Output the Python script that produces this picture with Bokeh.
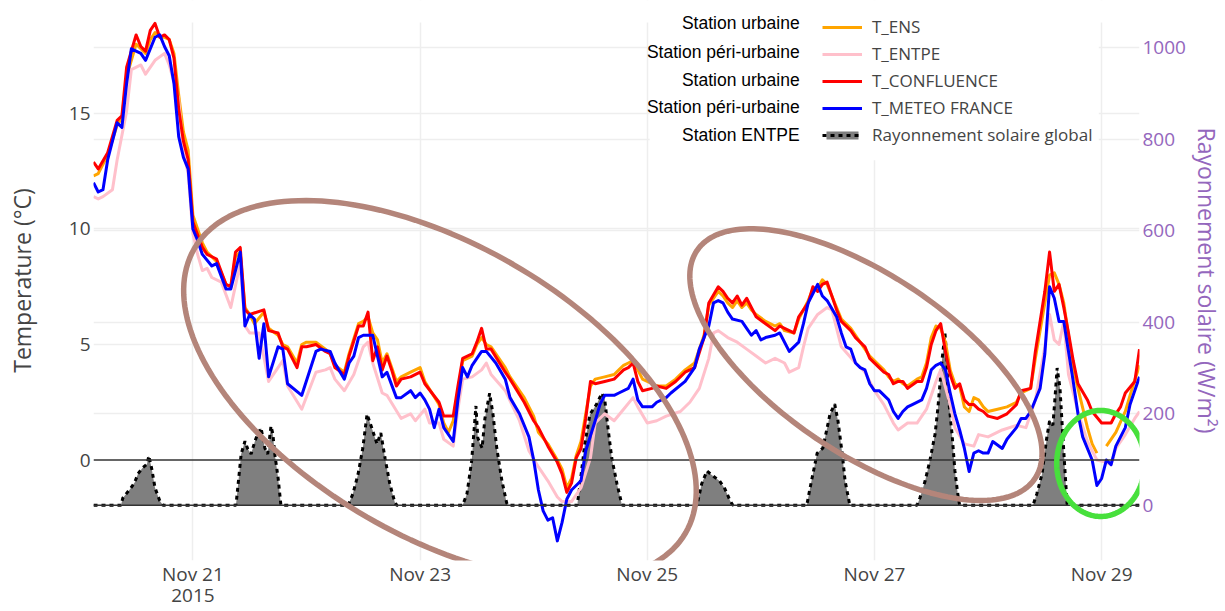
import numpy as np
import pandas as pd
from bokeh.plotting import figure
from bokeh.models import (Range1d, LinearAxis, DatetimeAxis, FixedTicker, DatetimeTickFormatter,
                          Span, Grid, Legend, LegendItem, BoxAnnotation, Label,
                          ColumnDataSource, PolyAnnotation)
from bokeh.embed import file_html
from bokeh.resources import INLINE

T0 = pd.Timestamp("2015-11-20 00:00")
nan = float("nan")

# ---- data: (hours since 2015-11-20 00:00, value) ----
t_ens = [(3,12.3),(4,12.4),(6,13.2),(8,14.5),(9,14.8),(10,16.6),(12,18.0),(13,17.8),(14,17.6),(15,18.2),(16,18.5),(17,18.3),(18,18.3),(19,18.2),(20,17.6),(21,15.8),(22,14.2),(23,13.4),(24,10.6),(26,9.4),(27,9.0),(29,8.6),(31,7.6),(32,7.5),(33,8.8),(34,9.0),(35,6.6),(36,6.3),(37,5.9),(39,6.4),(40,5.7),(42,5.4),(43,5.0),(44,4.9),(46,4.2),(47,5.0),(48,5.1),(50,5.1),(52,4.8),(53,4.6),(54,4.1),(56,3.8),(57,4.6),(59,5.9),(60,6.0),(61,6.2),(62,5.5),(63,5.2),(64,4.2),(65,4.6),(66,4.0),(67,3.4),(68,3.6),(70,3.8),(72,4.0),(73,3.4),(76,2.4),(77,1.6),(78,1.2),(79,1.7),(80,3.0),(81,4.3),(83,4.5),(84,5.0),(85,5.3),(86,5.0),(87,4.9),(90,4.0),(91,3.6),(94,2.7),(96,1.9),(97,1.2),(99,0.7),(101,0.0),(102,-0.4),(103,-1.2),(104,-0.8),(105,0.2),(106,0.8),(107,2.0),(108,3.2),(109,3.5),(111,3.6),(113,3.7),(114,3.9),(115,4.1),(116,4.2),(117,4.3),(118,3.9),(119,3.5),(121,3.3),(122,3.2),(124,3.2),(126,3.5),(128,3.9),(130,4.2),(132,5.4),(133,6.7),(135,7.3),(136,7.1),(137,6.8),(138,6.6),(139,6.9),(140,6.6),(141,6.8),(142,6.5),(143,6.3),(145,6.0),(147,5.8),(148,5.9),(149,5.6),(151,5.5),(152,6.1),(154,6.9),(155,7.4),(156,7.4),(157,7.8),(158,7.6),(160,6.6),(161,6.1),(163,5.7),(164,5.4),(166,4.8),(167,4.5),(169,4.1),(170,3.9),(171,3.6),(172,3.4),(173,3.5),(174,3.3),(175,3.2),(177,3.5),(178,3.6),(179,4.2),(180,5.3),(181,5.8),(182,5.7),(183,5.1),(184,3.9),(185,3.3),(186,3.2),(187,2.3),(188,2.1),(189,2.7),(190,2.6),(191,2.3),(192,2.1),(194,2.2),(196,2.3),(198,2.5),(199,2.9),(201,3.1),(202,4.4),(204,6.8),(205,8.0),(206,8.1),(207,7.6),(208,6.8),(209,5.4),(210,4.0),(211,3.1),(213,1.4),(214,0.7),(215,0.3),(216,nan),(217,0.6),(219,1.2),(221,2.1),(222,2.8),(224,4.1)]

t_entpe = [(3,11.4),(4,11.3),(5,11.4),(7,11.7),(8,13.0),(10,15.1),(11,16.9),(13,17.1),(14,16.7),(16,17.3),(18,17.6),(19,17.1),(21,15.6),(22,13.3),(23,12.4),(24,9.8),(25,8.9),(26,8.2),(27,8.3),(28,7.9),(30,7.7),(32,6.6),(34,8.5),(35,5.8),(36,5.5),(38,5.5),(40,3.4),(43,4.3),(44,3.2),(47,2.2),(50,3.8),(52,3.9),(53,4.0),(54,3.5),(56,3.0),(58,3.7),(60,4.9),(61,5.1),(62,4.2),(64,2.9),(65,2.8),(68,1.8),(70,2.0),(71,1.7),(73,2.2),(74,1.6),(76,1.6),(77,0.9),(79,0.6),(80,2.2),(81,3.5),(83,3.6),(85,3.9),(86,4.2),(87,3.7),(90,3.0),(93,1.7),(95,0.4),(97,-0.3),(99,-0.9),(101,-1.6),(102,-1.8),(104,-1.8),(106,-1.2),(108,0.1),(109,1.6),(111,2.0),(113,1.7),(115,2.2),(117,2.7),(118,2.3),(120,1.6),(122,1.7),(124,1.9),(127,2.1),(129,2.5),(131,3.1),(133,4.4),(134,5.5),(135,5.6),(137,5.3),(139,5.1),(141,4.8),(143,4.5),(145,4.2),(147,4.4),(149,4.2),(150,3.8),(152,4.0),(153,4.9),(154,5.7),(156,6.3),(158,6.6),(159,6.5),(161,4.9),(164,4.2),(166,3.8),(168,3.0),(170,2.4),(172,1.6),(173,1.3),(175,1.6),(177,1.6),(179,2.2),(181,3.4),(182,3.9),(184,2.4),(185,1.4),(187,0.7),(189,0.6),(190,1.1),(192,1.0),(195,1.3),(198,1.5),(200,1.4),(202,2.6),(204,4.9),(205,6.3),(206,5.2),(207,5.0),(208,6.0),(209,3.7),(211,2.1),(213,0.8),(215,0.0),(217,-0.1),(218,-0.2),(219,0.5),(221,1.1),(223,1.8),(224,2.1)]

t_confluence = [(3,12.9),(4,12.6),(6,13.3),(8,14.7),(9,14.9),(10,17.0),(12,18.4),(13,17.9),(14,17.7),(15,18.6),(16,18.9),(17,18.3),(18,18.4),(19,18.2),(20,17.4),(21,15.2),(22,13.8),(23,13.0),(24,10.3),(26,9.2),(27,8.9),(29,8.7),(31,7.6),(32,7.5),(33,9.0),(34,9.2),(35,6.5),(36,6.3),(39,6.5),(40,5.6),(42,5.5),(43,4.9),(44,4.8),(46,4.0),(47,4.9),(48,4.9),(50,5.0),(52,4.7),(53,4.6),(54,4.0),(56,3.7),(57,4.5),(59,5.8),(60,5.8),(61,6.4),(62,4.3),(63,4.9),(64,3.9),(65,4.5),(66,3.9),(67,3.2),(68,3.5),(70,3.6),(72,3.8),(73,3.3),(76,2.5),(77,1.9),(79,1.9),(80,3.2),(81,4.4),(83,4.6),(84,5.1),(85,5.7),(86,4.8),(87,4.8),(90,3.8),(91,3.5),(94,2.5),(96,1.7),(97,1.4),(99,0.6),(101,-0.1),(102,-0.6),(103,-1.4),(104,-1.0),(105,0.1),(106,0.5),(107,1.8),(108,3.4),(109,3.3),(111,3.4),(113,3.5),(114,3.7),(115,3.9),(116,4.0),(117,4.2),(118,3.4),(119,3.0),(121,3.1),(122,3.2),(124,3.1),(126,3.4),(128,3.8),(130,4.0),(132,5.3),(133,6.8),(135,7.5),(136,7.3),(137,7.0),(138,6.8),(139,7.1),(140,6.7),(141,7.0),(142,6.6),(143,6.2),(145,5.9),(147,5.6),(148,5.8),(149,5.7),(151,5.5),(152,6.2),(154,6.8),(155,7.5),(156,7.3),(157,7.6),(158,7.7),(160,6.5),(161,6.0),(163,5.6),(164,5.3),(166,4.9),(167,4.4),(169,4.0),(170,3.8),(171,3.7),(172,3.3),(173,3.4),(174,3.4),(175,3.1),(177,3.4),(178,3.4),(179,4.0),(180,5.0),(181,5.6),(182,5.9),(183,4.7),(184,3.7),(185,3.1),(186,3.3),(187,2.6),(188,2.4),(189,2.4),(190,2.2),(191,2.1),(192,1.9),(194,1.8),(196,2.0),(198,2.4),(199,3.0),(201,3.1),(202,4.7),(204,7.3),(205,9.0),(206,7.3),(207,7.6),(208,6.6),(209,5.5),(210,4.3),(211,3.3),(213,2.6),(214,2.1),(216,1.6),(217,1.6),(218,1.6),(219,2.0),(220,2.3),(221,2.9),(223,3.4),(224,4.8)]

t_meteo = [(3,12.0),(4,11.6),(5,11.7),(6,13.0),(8,14.6),(9,14.4),(10,16.3),(11,17.8),(13,17.6),(14,17.3),(16,18.3),(17,18.4),(18,17.9),(19,17.5),(20,16.3),(21,14.0),(22,13.1),(23,12.6),(24,10.0),(25,9.5),(26,8.9),(28,8.4),(29,8.5),(31,7.4),(32,7.4),(34,9.0),(35,5.8),(36,6.3),(37,6.1),(38,4.4),(39,5.9),(40,3.6),(42,4.9),(43,4.8),(44,3.3),(47,2.8),(50,4.7),(51,4.8),(53,4.7),(54,4.2),(56,3.5),(57,4.2),(58,4.5),(59,5.3),(60,5.4),(62,5.4),(63,4.5),(64,3.6),(65,3.8),(67,2.7),(68,2.7),(70,3.0),(71,2.7),(72,2.9),(73,2.6),(74,2.2),(75,1.4),(76,2.2),(77,1.4),(79,0.8),(80,2.6),(81,4.0),(82,3.6),(83,4.1),(85,4.7),(86,4.7),(88,4.2),(90,3.5),(91,2.7),(93,2.0),(95,1.0),(96,0.0),(97,-1.3),(98,-2.2),(99,-2.6),(100,-2.5),(101,-3.5),(102,-2.7),(103,-1.7),(104,-1.3),(106,-0.9),(107,0.4),(109,1.7),(110,2.4),(111,2.8),(113,2.8),(114,2.9),(116,3.1),(117,3.5),(118,2.6),(119,2.3),(121,2.3),(122,2.5),(124,2.7),(125,2.9),(128,3.4),(130,4.0),(131,4.8),(133,5.8),(134,6.8),(135,6.9),(136,6.8),(137,6.4),(138,6.1),(140,6.0),(141,5.7),(142,5.4),(143,5.6),(144,5.2),(145,5.3),(147,5.4),(148,5.5),(150,4.7),(152,5.1),(153,5.9),(154,6.8),(156,7.6),(157,7.1),(158,6.9),(160,6.2),(161,5.5),(162,4.9),(163,4.8),(164,4.2),(165,4.0),(166,3.9),(167,3.3),(168,3.0),(169,3.0),(171,2.6),(172,2.1),(173,1.8),(174,2.1),(175,2.3),(176,2.4),(178,2.6),(179,3.1),(180,3.9),(181,4.1),(182,4.2),(183,3.9),(184,2.9),(185,2.0),(186,1.3),(187,0.5),(188,-0.5),(189,0.3),(190,0.4),(191,0.3),(192,0.3),(193,0.8),(195,0.5),(196,0.9),(198,1.4),(199,1.8),(200,1.8),(201,2.1),(203,3.1),(204,4.6),(205,7.5),(206,7.0),(207,6.0),(208,6.0),(209,4.7),(210,3.4),(211,2.0),(212,1.0),(214,0.0),(215,-1.1),(216,-0.8),(217,0.0),(218,-0.2),(219,0.6),(221,1.4),(222,2.4),(224,3.6)]

# global solar radiation, W/m2
solar = [(3.0,0),(8.8,0),(9.2,16),(10.9,38),(11.7,50),(12.4,69),(13.4,82),(14.3,90),(14.7,108),(15.3,80),(16.0,38),(17.0,10),(17.7,0),
         (33.1,0),(34.2,112),(35.0,140),(35.6,123),(36.3,112),(37.1,140),(37.7,156),(38.4,169),(39.2,125),(39.8,112),(40.5,173),(40.9,156),(41.3,112),(42.0,60),(42.6,0),
         (56.8,0),(57.8,25),(58.9,68),(59.9,125),(60.8,199),(61.8,169),(62.9,134),(63.7,158),(64.6,103),(65.6,47),(66.7,5),(67.1,0),
         (81.0,0),(81.9,25),(82.9,97),(83.8,217),(84.2,147),(85.1,125),(85.7,190),(86.7,245),(87.4,199),(88.2,125),(89.3,53),(90.3,5),(90.6,0),
         (105.2,0),(105.8,47),(106.8,134),(107.9,199),(109.3,221),(110.4,245),(111.0,232),(111.7,169),(112.5,103),(113.6,47),(114.6,3),(114.8,0),
         (130.5,0),(131.5,47),(132.6,75),(133.9,64),(135.3,53),(136.4,36),(137.5,10),(138.1,0),
         (153.7,0),(154.4,38),(155.9,114),(157.1,125),(158.0,169),(158.6,199),(159.6,221),(160.3,184),(161.2,112),(161.8,53),(162.8,0),
         (177.0,0),(177.6,16),(178.7,53),(179.7,97),(180.8,155),(181.4,212),(182.3,320),(182.9,375),(183.3,322),(183.5,249),(184.4,155),(185.0,75),(185.6,25),(186.0,0),
         (201.5,0),(202.3,25),(203.4,68),(204.4,147),(205.0,184),(205.7,175),(206.1,228),(206.6,300),(207.2,256),(207.7,169),(208.3,68),(208.7,3),(208.9,0),
         (224.0,0)]

series_names = ["T_ENS", "T_ENTPE", "T_CONFLUENCE", "T_METEO FRANCE"]
series_colors = ["#FFA500", "#FFC0CB", "#FF0000", "#0000FF"]
solar_name = "Rayonnement solaire global"
station_names = ["Station urbaine", "Station péri-urbaine", "Station urbaine",
                 "Station péri-urbaine", "Station ENTPE"]
tick_days = ["2015-11-21", "2015-11-23", "2015-11-25", "2015-11-27", "2015-11-29"]
temp_ticks = [0, 5, 10, 15]
solar_ticks = [0, 200, 400, 600, 800, 1000]

# highlight ellipses (annotations): centre (hours, °C), semi-axes in px, tilt in degrees
hl_hours = [76.2, 166.2, 215.8]
hl_temps = [3.0, 4.13, -0.15]
hl_semi_a = [284, 204, 44]
hl_semi_b = [146, 89, 53]
hl_tilt = [30, 34, 0]
hl_colors = ["#b4857a", "#b4857a", "#47e03c"]

# ---- layout constants ----
W, H = 1225, 611
B_LEFT, B_RIGHT, B_TOP, B_BOTTOM = 93, 85, 0, 51
FRAME_W, FRAME_H = W - B_LEFT - B_RIGHT, H - B_TOP - B_BOTTOM
H_START, H_END = 3, 224
T_LO, T_HI = -4.35, 19.89          # frame reaches the top edge of the canvas
T_GRID_TOP = 18.94                 # plot area top used by the grid
S_LO, S_HI = -120.6, 1102.9
FONT = "Open Sans"
GREY = "#444444"
PURPLE = "#9467bd"


def to_src(pairs):
    h = np.array([a for a, _ in pairs], dtype=float)
    v = np.array([b for _, b in pairs], dtype=float)
    return ColumnDataSource(dict(t=T0 + pd.to_timedelta(h, unit="h"), v=v))


def ms(ts):
    return pd.Timestamp(ts).value / 1e6


def ms_h(hours):
    return ms(T0 + pd.Timedelta(hours=hours))


p = figure(x_axis_type="datetime", width=W, height=H,
           x_range=Range1d(ms_h(H_START), ms_h(H_END)), y_range=Range1d(T_LO, T_HI),
           output_backend="svg", toolbar_location=None,
           min_border_left=B_LEFT, min_border_top=B_TOP, min_border_right=B_RIGHT,
           min_border_bottom=B_BOTTOM)
p.outline_line_color = None
p.background_fill_color = "white"
p.border_fill_color = "white"
p.extra_y_ranges = {"solar": Range1d(S_LO, S_HI)}

# axes
xa = p.xaxis[0]
xa.ticker = FixedTicker(ticks=[ms(d) for d in tick_days])
xa.formatter = DatetimeTickFormatter(days="%b %d")
ya = p.yaxis[0]
ya.ticker = FixedTicker(ticks=temp_ticks)
ya.axis_label = "Temperature (°C)"
ya.axis_label_standoff = 28

yr = LinearAxis(y_range_name="solar", ticker=FixedTicker(ticks=solar_ticks),
                axis_label="Rayonnement solaire (W/m²)")
yr.axis_label_standoff = 2
p.add_layout(yr, "right")

yf = "%Y"
xyear = DatetimeAxis(ticker=FixedTicker(ticks=[ms(tick_days[0])]),
                     formatter=DatetimeTickFormatter(microseconds=yf, milliseconds=yf,
                                                     seconds=yf, minsec=yf, minutes=yf,
                                                     hourmin=yf, hours=yf, days=yf,
                                                     months=yf, years=yf))
p.add_layout(xyear, "below")

for ax in (xa, ya, yr, xyear):
    ax.axis_line_color = None
    ax.major_tick_line_color = None
    ax.minor_tick_line_color = None
    ax.major_tick_out = 0
    ax.major_tick_in = 0
    ax.minor_tick_out = 0
    ax.minor_tick_in = 0
    ax.major_label_text_font = FONT
    ax.major_label_text_font_size = "19px"
    ax.major_label_text_color = GREY
    ax.major_label_standoff = 3
    ax.axis_label_text_font = FONT
    ax.axis_label_text_font_size = "23px"
    ax.axis_label_text_font_style = "normal"
    ax.axis_label_text_color = GREY
xa.major_label_standoff = 0
xyear.major_label_standoff = -1
yr.major_label_text_color = PURPLE
yr.axis_label_text_color = PURPLE

# grids
p.xgrid.ticker = xa.ticker
p.ygrid.ticker = FixedTicker(ticks=[t for t in temp_ticks if t != 0])
for g in (p.xgrid[0], p.ygrid[0]):
    g.grid_line_color = "#eeeeee"
    g.grid_line_width = 1.5
g2 = Grid(dimension=1, ticker=FixedTicker(ticks=[t for t in solar_ticks if t != 0]),
          y_range_name="solar", grid_line_color="#eeeeee", grid_line_width=1.5)
p.add_layout(g2)
# keep the strip above the plot area free of grid lines
p.add_layout(BoxAnnotation(bottom=T_GRID_TOP, fill_color="white", fill_alpha=1.0,
                           line_color=None, level="underlay"))

# zero lines
p.add_layout(Span(location=0, dimension="width", line_color="#333333", line_width=1.5))
p.add_layout(Span(location=0, dimension="width", line_color="#333333", line_width=1.5,
                  y_range_name="solar"))

# solar radiation
ssrc = to_src(solar)
r_area = p.varea(x="t", y1=0, y2="v", source=ssrc, fill_color="#7f7f7f",
                 y_range_name="solar")
r_sline = p.line(x="t", y="v", source=ssrc, line_color="black", line_width=3,
                 line_dash="4 4", y_range_name="solar")

# temperatures
renderers = []
for data, col in zip([t_ens, t_entpe, t_confluence, t_meteo], series_colors):
    r = p.line(x="t", y="v", source=to_src(data), line_color=col, line_width=3,
               line_join="round")
    renderers.append(r)

# white panel behind legend + station notes
p.add_layout(BoxAnnotation(left=ms_h(120.5), right=ms_h(215.4), bottom=12.97,
                           fill_color="white", fill_alpha=1.0, line_color=None))

items = [LegendItem(label=n, renderers=[r]) for n, r in zip(series_names, renderers)]
items.append(LegendItem(label=solar_name, renderers=[r_area, r_sline]))
legend = Legend(items=items, location=(729, 414), orientation="vertical",
                padding=6, margin=0, spacing=4, glyph_width=40, glyph_height=10,
                label_height=20, label_standoff=10, background_fill_alpha=0,
                border_line_color=None, label_text_font=FONT,
                label_text_font_size="17px", label_text_color=GREY)
p.add_layout(legend)

label_x = ms_h(152.2)
label_y = [18.90, 17.64, 16.47, 15.26, 14.05]
for name, yy in zip(station_names, label_y):
    p.add_layout(Label(x=label_x, y=yy, text=name, text_align="right",
                       text_baseline="middle", text_font="Liberation Sans",
                       text_font_size="17.5px", text_color="black"))

# highlight ellipses
px_per_h = FRAME_W / (H_END - H_START)
px_per_deg = FRAME_H / (T_HI - T_LO)
tt = np.linspace(0, 2 * np.pi, 181)
for hh, yy, a, b, tilt, col in zip(hl_hours, hl_temps, hl_semi_a, hl_semi_b, hl_tilt, hl_colors):
    th = np.radians(tilt)
    dx = a * np.cos(tt) * np.cos(th) - b * np.sin(tt) * np.sin(th)
    dy = a * np.cos(tt) * np.sin(th) + b * np.sin(tt) * np.cos(th)   # screen, downward
    xs = [ms_h(hh + v / px_per_h) for v in dx]
    ys = list(yy - dy / px_per_deg)
    p.add_layout(PolyAnnotation(xs=xs, ys=ys, fill_alpha=0, line_color=col,
                                line_alpha=1.0, line_width=5.5))

open("out.html", "w").write(file_html(p, INLINE))
